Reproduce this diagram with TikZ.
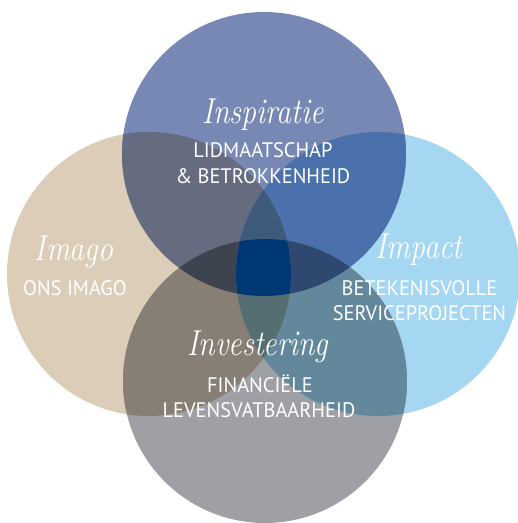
\documentclass[tikz,border=0pt]{standalone}
\usepackage{fontspec}
\setmainfont{PT Sans}[FakeStretch=0.97]
\newfontfamily\scriptf{Latin Modern Roman}
\definecolor{cT}{HTML}{7788B4}
\definecolor{cL}{HTML}{DCCDB8}
\definecolor{cR}{HTML}{A5D7F3}
\definecolor{cB}{HTML}{9FA0A5}
\definecolor{cTL}{HTML}{666C80}
\definecolor{cTR}{HTML}{4A71AC}
\definecolor{cLB}{HTML}{877F73}
\definecolor{cRB}{HTML}{63879B}
\definecolor{cTLB}{HTML}{3E4350}
\definecolor{cTRB}{HTML}{2E4870}
\definecolor{cTLR}{HTML}{3E5B7C}
\definecolor{cLRB}{HTML}{566E72}
\definecolor{cAll}{HTML}{003876}
\newcommand\scr[1]{\scalebox{0.83}[1]{#1}}
\tikzset{
  title/.style={text=white, inner sep=0pt, anchor=base, font=\scriptf\itshape\fontsize{36}{36}\selectfont},
  sub/.style={text=white, inner sep=0pt, anchor=base, font=\fontsize{21}{21}\selectfont},
}
\def\cT{(264,154) circle[radius=142]}
\def\cL{(149,274) circle[radius=142]}
\def\cR{(378,274) circle[radius=142]}
\def\cB{(265,381) circle[radius=142]}
\begin{document}
\begin{tikzpicture}[x=1pt,y=-1pt]
\useasboundingbox (0,0) rectangle (518,523);
% single circles
\fill[cL] \cL;
\fill[cR] \cR;
\fill[cT] \cT;
\fill[cB] \cB;
% pairs
\begin{scope}\clip \cT; \fill[cTL] \cL; \fill[cTR] \cR; \end{scope}
\begin{scope}\clip \cB; \fill[cLB] \cL; \fill[cRB] \cR; \end{scope}
% triples
\begin{scope}\clip \cT; \clip \cB; \fill[cTLB] \cL; \fill[cTRB] \cR; \end{scope}
\begin{scope}\clip \cL; \clip \cR; \fill[cTLR] \cT; \fill[cLRB] \cB; \end{scope}
% all four
\begin{scope}\clip \cT; \clip \cB; \clip \cL; \fill[cAll] \cR; \end{scope}
% labels
\node[title] (tInsp) at (263,123) {\scr{Inspiratie}};
\node[sub] (sInsp1) at (263,157) {LIDMAATSCHAP};
\node[sub] (sInsp2) at (263,183) {\& BETROKKENHEID};
\node[title] (tImago) at (74,260) {\scr{Imago}};
\node[sub] (sImago) at (75,295) {ONS IMAGO};
\node[title] (tImpact) at (419,258) {\scr{Impact}};
\node[sub] (sImpact1) at (419.5,295) {BETEKENISVOLLE};
\node[sub] (sImpact2) at (419.5,320) {SERVICEPROJECTEN};
\node[title] (tInv) at (258,355) {\scr{Investering}};
\node[sub] (sInv1) at (260,392) {FINANCIËLE};
\node[sub] (sInv2) at (259,417) {LEVENSVATBAARHEID};
\end{tikzpicture}
\end{document}
